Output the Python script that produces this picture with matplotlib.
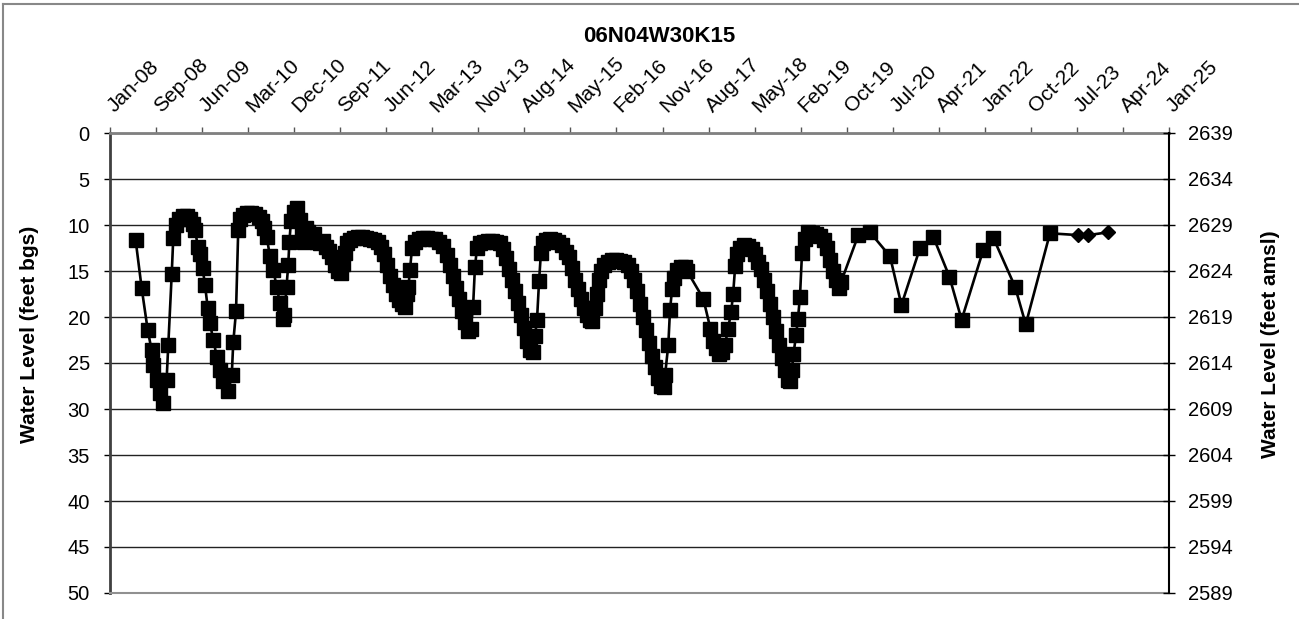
import datetime as dt
import matplotlib
matplotlib.use("Agg")
import matplotlib.pyplot as plt
import matplotlib.transforms as mtransforms
from matplotlib.lines import Line2D
import pandas as pd

plt.rcParams['font.family'] = ['Liberation Sans', 'DejaVu Sans']

TITULO = "06N04W30K15"
ETQ_IZQ = "Water Level (feet bgs)"
ETQ_DER = "Water Level (feet amsl)"
COTA_REF = 2639  # elevación de la boca del pozo (feet amsl)

# ── lecturas con marcador cuadrado ──────────────────────────────
fechas = [
    "2008-05-30", "2008-07-05", "2008-08-09", "2008-09-01", "2008-09-09", "2008-10-01",
    "2008-10-20", "2008-11-08", "2008-11-28", "2008-12-08", "2008-12-28", "2009-01-06",
    "2009-01-22", "2009-02-08", "2009-03-04", "2009-03-27", "2009-04-14", "2009-05-01",
    "2009-05-13", "2009-05-31", "2009-06-12", "2009-06-27", "2009-07-11", "2009-07-27",
    "2009-08-09", "2009-08-29", "2009-09-18", "2009-10-07", "2009-10-26", "2009-11-25",
    "2009-12-15", "2009-12-24", "2010-01-09", "2010-01-22", "2010-02-01", "2010-02-19",
    "2010-03-14", "2010-04-07", "2010-04-30", "2010-05-24", "2010-06-10", "2010-06-22",
    "2010-07-08", "2010-07-27", "2010-08-16", "2010-09-04", "2010-09-24", "2010-10-13",
    "2010-10-20", "2010-11-01", "2010-11-11", "2010-11-18", "2010-11-27", "2010-12-15",
    "2011-01-01", "2011-01-19", "2011-01-31", "2011-02-12", "2011-02-23", "2011-03-07",
    "2011-03-25", "2011-04-11", "2011-04-29", "2011-05-16", "2011-06-03", "2011-06-21",
    "2011-07-08", "2011-07-26", "2011-08-12", "2011-08-30", "2011-09-14", "2011-09-28",
    "2011-10-10", "2011-10-22", "2011-11-08", "2011-12-02", "2011-12-25", "2012-01-18",
    "2012-02-10", "2012-03-05", "2012-03-28", "2012-04-21", "2012-05-08", "2012-05-26",
    "2012-06-12", "2012-06-30", "2012-07-17", "2012-08-04", "2012-08-22", "2012-09-08",
    "2012-09-26", "2012-10-08", "2012-10-16", "2012-10-25", "2012-11-06", "2012-11-23",
    "2012-12-17", "2013-01-09", "2013-02-02", "2013-02-25", "2013-03-21", "2013-04-13",
    "2013-05-07", "2013-05-30", "2013-06-17", "2013-07-04", "2013-07-22", "2013-08-09",
    "2013-08-26", "2013-09-13", "2013-09-30", "2013-10-15", "2013-10-30", "2013-11-10",
    "2013-11-22", "2013-12-10", "2014-01-02", "2014-01-26", "2014-02-18", "2014-03-13",
    "2014-04-06", "2014-04-24", "2014-05-11", "2014-05-29", "2014-06-15", "2014-07-03",
    "2014-07-21", "2014-08-07", "2014-08-25", "2014-09-11", "2014-09-29", "2014-10-14",
    "2014-10-28", "2014-11-09", "2014-11-21", "2014-12-02", "2014-12-14", "2015-01-01",
    "2015-01-24", "2015-02-17", "2015-03-12", "2015-04-04", "2015-04-28", "2015-05-16",
    "2015-06-02", "2015-06-20", "2015-07-07", "2015-07-25", "2015-08-12", "2015-08-29",
    "2015-09-16", "2015-09-30", "2015-10-15", "2015-10-27", "2015-11-07", "2015-11-19",
    "2015-12-07", "2015-12-30", "2016-01-23", "2016-02-15", "2016-03-10", "2016-04-02",
    "2016-04-26", "2016-05-13", "2016-05-31", "2016-06-17", "2016-07-05", "2016-07-23",
    "2016-08-09", "2016-08-27", "2016-09-13", "2016-10-01", "2016-10-18", "2016-11-05",
    "2016-11-20", "2016-11-29", "2016-12-18", "2016-12-28", "2017-01-09", "2017-01-20",
    "2017-02-07", "2017-03-02", "2017-03-26", "2017-04-07", "2017-07-11", "2017-08-22",
    "2017-09-08", "2017-09-25", "2017-10-12", "2017-10-29", "2017-11-16", "2017-12-03",
    "2017-12-21", "2018-01-02", "2018-01-14", "2018-01-25", "2018-02-12", "2018-03-07",
    "2018-03-31", "2018-04-23", "2018-05-10", "2018-05-28", "2018-06-15", "2018-07-02",
    "2018-07-20", "2018-08-06", "2018-08-24", "2018-09-10", "2018-09-28", "2018-10-16",
    "2018-11-02", "2018-11-20", "2018-12-01", "2018-12-13", "2018-12-22", "2019-01-06",
    "2019-01-17", "2019-01-29", "2019-02-10", "2019-02-28", "2019-03-17", "2019-04-10",
    "2019-05-03", "2019-05-26", "2019-06-19", "2019-07-07", "2019-07-24", "2019-08-11",
    "2019-08-28", "2019-09-15", "2019-09-27", "2020-01-06", "2020-03-15", "2020-07-10",
    "2020-09-15", "2021-01-02", "2021-03-21", "2021-06-23", "2021-09-03", "2022-01-08",
    "2022-03-08", "2022-07-13", "2022-09-14", "2023-02-03",
]
nivel_bgs = [
    11.6, 16.9, 21.4, 23.6, 25.2, 26.8,
    28.3, 29.4, 26.8, 23.0, 15.3, 11.4,
    10.0, 9.3, 9.0, 9.0, 9.3, 9.9,
    10.5, 12.4, 13.2, 14.7, 16.5, 19.0,
    20.7, 22.5, 24.3, 25.8, 27.0, 28.0,
    26.3, 22.7, 19.4, 10.5, 9.3, 8.9,
    8.7, 8.7, 8.8, 9.1, 9.6, 10.3,
    11.3, 13.4, 14.9, 16.7, 18.5, 20.2,
    19.8, 16.7, 14.4, 11.8, 9.6, 8.6,
    8.1, 9.5, 10.8, 11.8, 10.3, 10.8,
    11.5, 11.0, 11.8, 12.0, 11.7, 12.4,
    12.8, 13.5, 14.3, 15.0, 15.2, 14.2,
    13.0, 12.0, 11.6, 11.4, 11.3, 11.3,
    11.4, 11.5, 11.6, 11.8, 12.4, 13.2,
    14.3, 15.5, 16.5, 17.5, 18.2, 18.6,
    18.9, 17.5, 16.7, 14.9, 12.5, 11.8,
    11.5, 11.4, 11.4, 11.5, 11.5, 11.8,
    12.3, 13.3, 14.3, 15.5, 16.8, 18.0,
    19.3, 20.5, 21.5, 21.3, 18.9, 14.6,
    12.5, 12.0, 11.8, 11.7, 11.7, 11.8,
    12.0, 12.6, 13.6, 14.8, 16.0, 17.2,
    18.5, 19.8, 21.2, 22.6, 23.6, 23.8,
    22.1, 20.3, 16.1, 13.0, 12.0, 11.6,
    11.5, 11.6, 11.8, 12.2, 12.9, 13.5,
    14.7, 16.0, 17.0, 18.0, 19.0, 19.8,
    20.3, 20.4, 19.0, 17.5, 16.0, 15.0,
    14.4, 14.0, 13.8, 13.8, 13.9, 14.0,
    14.4, 15.0, 16.0, 17.2, 18.6, 20.0,
    21.4, 22.8, 24.2, 25.4, 26.6, 27.5,
    27.6, 26.3, 23.0, 19.2, 17.0, 15.8,
    14.9, 14.6, 14.6, 15.0, 18.0, 21.3,
    22.6, 23.4, 24.0, 23.8, 23.0, 21.3,
    19.5, 17.5, 14.5, 13.2, 12.5, 12.2,
    12.3, 12.6, 13.2, 14.0, 14.8, 16.0,
    17.2, 18.6, 20.0, 21.5, 23.0, 24.5,
    25.8, 26.8, 27.0, 25.8, 24.0, 22.0,
    20.2, 17.8, 13.0, 11.5, 10.8, 10.9,
    11.0, 11.2, 11.6, 12.5, 13.8, 15.0,
    16.0, 16.8, 16.2, 11.1, 10.8, 13.4,
    18.7, 12.5, 11.3, 15.6, 20.3, 12.7,
    11.4, 16.7, 20.8, 10.9,
]

# ── últimas lecturas, marcador rombo ────────────────────────────
fechas_rombo = ["2023-07-19", "2023-09-16", "2024-01-07"]
nivel_rombo = [11.1, 11.1, 10.8]

W, H = 1299, 619
fig = plt.figure(figsize=(W / 100, H / 100), dpi=100)
ax = fig.add_axes([110 / W, 1 - 593 / H, 1059 / W, 460 / H])

f_cuad = pd.to_datetime(fechas)
f_romb = pd.to_datetime(fechas_rombo)

# línea continua por todas las lecturas
ax.plot(list(f_cuad) + list(f_romb), nivel_bgs + nivel_rombo,
        color="black", lw=1.9, zorder=3)
ax.plot(f_cuad, nivel_bgs, ls="none", marker="s", ms=10.5,
        color="black", zorder=4)
ax.plot(f_romb, nivel_rombo, ls="none", marker="D", ms=7.5,
        color="black", zorder=4)

# ── eje x arriba, fechas cada 270 días (como Excel) ─────────────
inicio = dt.datetime(2008, 1, 1)
ticks = [inicio + dt.timedelta(days=270 * k) for k in range(24)]
ax.set_xlim(ticks[0], ticks[-1])
ax.set_xticks(ticks)
ax.set_xticklabels([t.strftime("%b-%y") for t in ticks], rotation=45,
                   ha="left", va="baseline", rotation_mode="anchor", fontsize=15)
ax.xaxis.tick_top()
ax.tick_params(axis="x", direction="out", length=4.5, width=1, color="#555555", pad=10)
desplaza = mtransforms.ScaledTranslation(5 / 100, 0, fig.dpi_scale_trans)
for lbl in ax.get_xticklabels():
    lbl.set_transform(lbl.get_transform() + desplaza)

# ── eje y izquierdo (profundidad) ───────────────────────────────
ax.set_ylim(50, 0)
ax.set_yticks(range(0, 51, 5))
ax.tick_params(axis="y", direction="out", length=4.5, width=1, labelsize=14.5, pad=10)
ax.grid(axis="y", color="#222222", lw=1.0)
ax.set_axisbelow(True)

ax.spines["top"].set_color("#808080")
ax.spines["top"].set_linewidth(2)
ax.spines["left"].set_color("#404040")
ax.spines["left"].set_linewidth(2)
ax.spines["bottom"].set_color("#909090")
ax.spines["bottom"].set_linewidth(1.5)
ax.spines["right"].set_visible(False)

# ── eje y derecho (elevación) ───────────────────────────────────
ax2 = ax.twinx()
ax2.set_ylim(COTA_REF - 50, COTA_REF)
ax2.set_yticks(range(COTA_REF - 50, COTA_REF + 1, 5))
ax2.tick_params(axis="y", direction="inout", length=9, width=1, labelsize=14.5, pad=9)
for lado in ("top", "left", "bottom"):
    ax2.spines[lado].set_visible(False)
ax2.spines["right"].set_color("black")
ax2.spines["right"].set_linewidth(1.5)

# ── textos ──────────────────────────────────────────────────────
fig.text(659 / W, 1 - 37 / H, TITULO, ha="center", va="center",
         fontsize=16, fontweight="bold")
fig.text(30 / W, 1 - 334 / H, ETQ_IZQ, rotation=90, ha="center", va="center",
         fontsize=15, fontweight="bold")
fig.text(1271 / W, 1 - 344 / H, ETQ_DER, rotation=90, ha="center", va="center",
         fontsize=15, fontweight="bold")

# marco del gráfico (solo se ven borde izquierdo y superior)
fig.add_artist(Line2D([3 / W, 3 / W], [0, 1 - 4 / H], transform=fig.transFigure,
                      color="#888888", lw=1.5))
fig.add_artist(Line2D([3 / W, 1], [1 - 4 / H, 1 - 4 / H], transform=fig.transFigure,
                      color="#888888", lw=1.5))

fig.savefig("out.png", dpi=100)
